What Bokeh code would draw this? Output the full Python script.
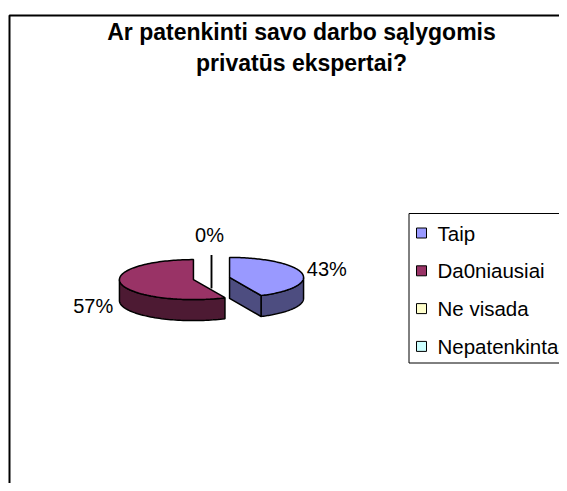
import numpy as np
from bokeh.plotting import figure
from bokeh.models import Range1d
from bokeh.embed import file_html
from bokeh.resources import INLINE
from bokeh.core.properties import value

# ---------------- data ----------------
categories = ["Taip", "Da0niausiai", "Ne visada", "Nepatenkintas"]
values = [43, 57, 0, 0]
title_lines = ["Ar patenkinti savo darbo sąlygomis", "privatūs ekspertai?"]

# ---------------- style ----------------
top_colors = ["#9999FF", "#993366", "#FFFFCC", "#CCFFFF"]
side_colors = ["#4D4D80", "#4D1A33", "#80806A", "#6A8080"]
FONT = value("Liberation Sans")

# pixel coordinate system (data units == picture pixels)
p = figure(width=559, height=483, x_range=Range1d(0, 559), y_range=Range1d(483, 0),
           output_backend="svg", toolbar_location=None, min_border=0)
p.axis.visible = False
p.grid.visible = False
p.outline_line_color = None
p.background_fill_color = "white"
p.border_fill_color = "white"

# chart area border (extends past the right/bottom edges)
p.line(x=[9, 9, 600], y=[520, 15, 15], line_color="black", line_width=2)

# ---------------- title ----------------
title_x = 301
title_mid = [31.8, 62.2]
p.text(x=[title_x] * len(title_lines), y=title_mid, text=title_lines,
       text_font=FONT, text_font_size="23px", text_font_style="bold",
       text_align="center", text_baseline="middle", text_color="black")

# ---------------- 3D pie ----------------
base_cx, base_cy = 211.0, 278.0
A, B, DEPTH = 74.0, 20.0, 21.0
EXPLODE = 0.25

total = float(sum(values))
fr = np.array(values, dtype=float) / total
ends = np.cumsum(fr) * 360.0
starts = ends - fr * 360.0

def pt(cx, cy, t_deg, dz=0.0):
    t = np.radians(t_deg)
    return cx + A * np.sin(t), cy - B * np.cos(t) + dz

side_xs, side_ys, side_fc = [], [], []
top_xs, top_ys, top_fc = [], [], []
zero_lines_x, zero_lines_y = [], []
centers = []

for i, v in enumerate(values):
    s, e = starts[i], ends[i]
    mid = np.radians((s + e) / 2.0)
    cx = base_cx + EXPLODE * A * np.sin(mid)
    cy = base_cy - EXPLODE * B * np.cos(mid)
    centers.append((cx, cy, (s + e) / 2.0))
    if v == 0:
        tx, ty = pt(cx, cy, s)
        zero_lines_x.append([tx, tx])
        zero_lines_y.append([ty + 1.5, cy + 0.7 * DEPTH])
        continue
    # outer wall (front half)
    w0, w1 = max(s, 90.0), min(e, 270.0)
    if w1 > w0:
        ts = np.linspace(w0, w1, 60)
        xa, ya = pt(cx, cy, ts)
        xb, yb = pt(cx, cy, ts[::-1], DEPTH)
        side_xs.append(list(np.concatenate([xa, xb])))
        side_ys.append(list(np.concatenate([ya, yb])))
        side_fc.append(side_colors[i])
    # radial cut faces
    for ang, visible in ((e, np.sin(np.radians(e)) > 1e-6),
                         (s, np.sin(np.radians(s)) < -1e-6)):
        if visible:
            ex, ey = pt(cx, cy, ang)
            side_xs.append([cx, ex, ex, cx])
            side_ys.append([cy, ey, ey + DEPTH, cy + DEPTH])
            side_fc.append(side_colors[i])
    # top face
    ts = np.linspace(s, e, 120)
    xa, ya = pt(cx, cy, ts)
    top_xs.append([cx] + list(xa))
    top_ys.append([cy] + list(ya))
    top_fc.append(top_colors[i])

p.patches(xs=side_xs, ys=side_ys, fill_color=side_fc, line_color="black", line_width=1.5)
p.patches(xs=top_xs, ys=top_ys, fill_color=top_fc, line_color="black", line_width=1.5)
if zero_lines_x:
    p.multi_line(xs=zero_lines_x, ys=zero_lines_y, line_color="black", line_width=1.5)

# data labels (vertical middle of the label text)
label_nudge = [(5, -4.5), (-8, 22.5), (-2, -19), (-2, -19)]
lab_x, lab_y, lab_t, lab_al = [], [], [], []
shown_zero = False
for i, v in enumerate(values):
    cx, cy, m = centers[i]
    if v == 0:
        if shown_zero:
            continue
        shown_zero = True
    mx, my = pt(cx, cy, m)
    dx, dy = label_nudge[i]
    sn = np.sin(np.radians(m))
    lab_x.append(mx + dx)
    lab_y.append(my + dy)
    lab_t.append(f"{round(100 * v / total)}%")
    lab_al.append("left" if sn > 0.3 else ("right" if sn < -0.3 else "center"))
p.text(x=lab_x, y=lab_y, text=lab_t, text_align=lab_al, text_baseline="middle",
       text_font=FONT, text_font_size="20px", text_color="black")

# ---------------- legend ----------------
leg_left, leg_top, leg_bottom = 408.5, 213, 362.5
p.line(x=[600, leg_left, leg_left, 600], y=[leg_top, leg_top, leg_bottom, leg_bottom],
       line_color="black", line_width=1)
row0, row_gap = 232.5, 37.8
rows_y = [row0 + k * row_gap for k in range(len(categories))]
p.rect(x=[421] * len(categories), y=rows_y, width=10, height=10,
       fill_color=top_colors, line_color="black", line_width=1)
p.text(x=[437] * len(categories), y=rows_y, text=categories, text_align="left",
       text_baseline="middle", text_font=FONT, text_font_size="20.5px",
       text_color="black")

open("out.html", "w").write(file_html(p, INLINE))
